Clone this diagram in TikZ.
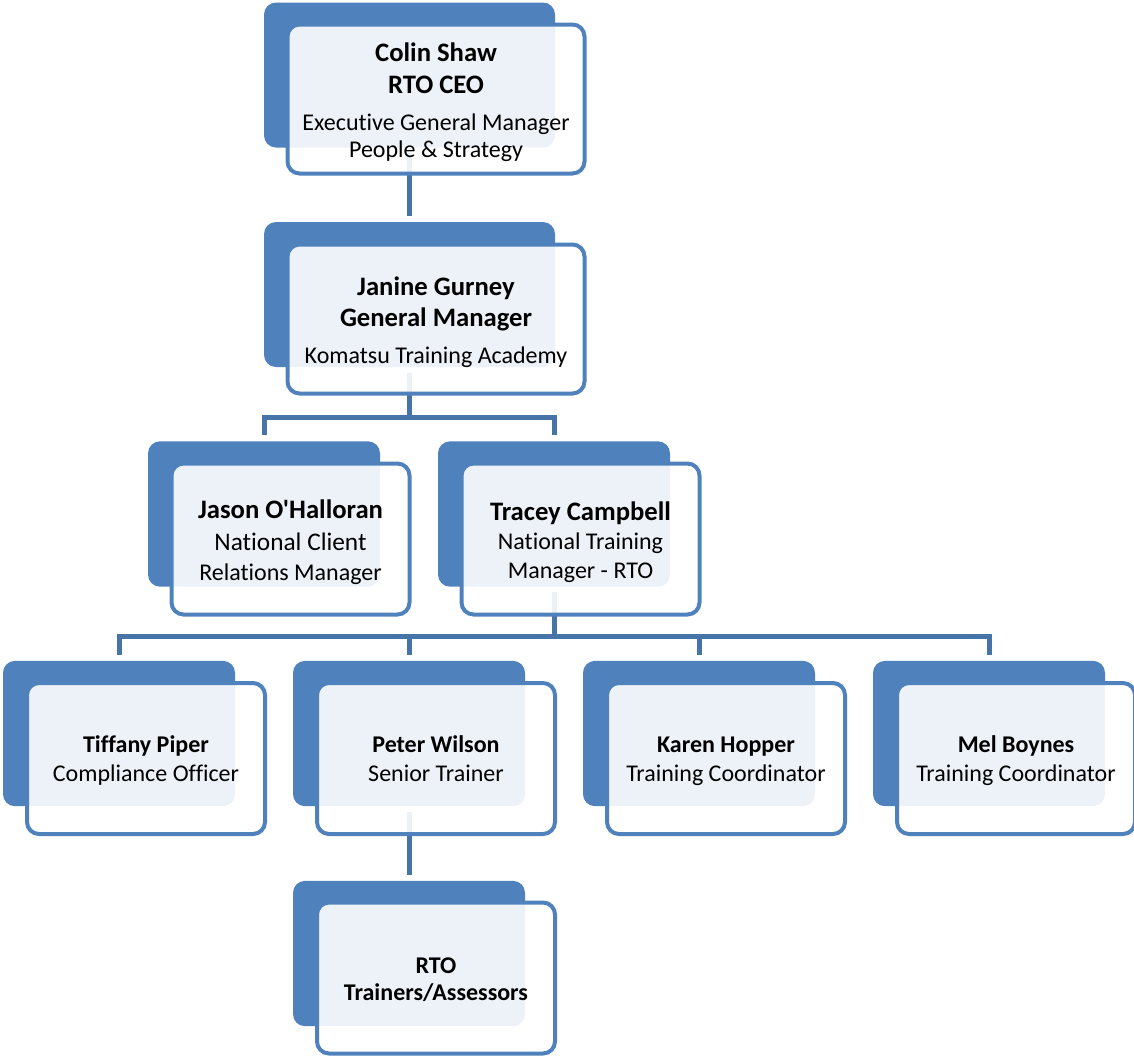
\documentclass[tikz,border=0pt]{standalone}
\usepackage{fontspec}
\setmainfont{Carlito}[Ligatures={NoCommon,TeXOff}]
\definecolor{acc}{HTML}{4F81BD}
\definecolor{conn}{HTML}{4673A8}
\newcommand\bigname{\fontsize{20}{24}\selectfont\bfseries}
\newcommand\smallname{\fontsize{18}{21}\selectfont\bfseries}
\newcommand\jobtxt{\fontsize{18}{20.5}\selectfont}
% struts fixing the height of the first line and the depth of the last one
\newcommand\hiA{\rule{0pt}{21pt}}
\newcommand\loA{\rule[-5.5pt]{0pt}{5.5pt}}
\newcommand\hiB{\rule{0pt}{18pt}}
\newcommand\loB{\rule[-5pt]{0pt}{5pt}}
\pgfdeclarelayer{bg}
\pgfsetlayers{bg,main}
\tikzset{
  backbox/.style={fill=acc, draw=none, rounded corners=9pt, inner sep=0pt},
  frontbox/.style={draw=acc, line width=3pt, fill=white, fill opacity=0.9, text opacity=1,
    rounded corners=9pt, inner sep=0pt, align=center, text=black, font=\jobtxt},
  wideB/.style={backbox, minimum width=218.25pt, minimum height=108.75pt},
  wideF/.style={frontbox, minimum width=222.75pt, minimum height=111.75pt},
  narB/.style={backbox, minimum width=174pt, minimum height=109pt},
  narF/.style={frontbox, minimum width=178.5pt, minimum height=113.25pt},
  link/.style={draw=conn, line width=3.75pt, shorten <=4.1pt, shorten >=4.5pt}
}
\begin{document}
\begin{tikzpicture}[x=0.75pt,y=-0.75pt]
\useasboundingbox (0,0) rectangle (1134,1057);
\coordinate (bus1) at (0,417);
\coordinate (bus2) at (0,636);
% back plates
\node[wideB] (colinB) at (409.5,75) {};
\node[wideB] (janB)   at (409.5,294.5) {};
\node[narB]  (jasB)   at (264,514) {};
\node[narB]  (traB)   at (554,514) {};
\node[narB]  (tifB)   at (119,733.5) {};
\node[narB]  (petB)   at (409,733.5) {};
\node[narB]  (karB)   at (699,733.5) {};
\node[narB]  (melB)   at (989,733.5) {};
\node[narB]  (rtoB)   at (409,953.5) {};
% front cards
\node[wideF] (colin) at (436,99) {\hiA{\bigname Colin Shaw}\\[3.5pt]{\bigname RTO CEO}\\[7pt]Executive General Manager\\People \& Strategy\loA};
\node[wideF] (janine) at (436,319) {\hiA{\bigname Janine Gurney}\\[3pt]{\bigname General Manager}\\[7.5pt]Komatsu Training Academy\loA};
\node[narF] (jason) at (290.5,539) {\hiA{\bigname Jason O'Halloran}\\[3pt]{\fontsize{19}{21}\selectfont National Client}\\[2pt]Relations Manager\loA};
\node[narF] (tracey) at (580.5,539) {\hiA{\bigname Tracey Campbell}\\[1.5pt]National Training\\[1.25pt]Manager - RTO\loA};
\node[narF] (tiffany) at (146,758.5) {\hiB{\smallname Tiffany Piper}\\[1pt]Compliance Officer\loB};
\node[narF] (peter) at (436,758.5) {\hiB{\smallname Peter Wilson}\\[1pt]Senior Trainer\loB};
\node[narF] (karen) at (726,758.5) {\hiB{\smallname Karen Hopper}\\[1pt]Training Coordinator\loB};
\node[narF] (mel) at (1016,758.5) {\hiB{\smallname Mel Boynes}\\[1.5pt]Training Coordinator\loB};
\node[narF] (rto) at (436,978) {\hiB{\smallname RTO}\\{\smallname Trainers/Assessors}\loB};
% connectors, under the plates
\begin{pgfonlayer}{bg}
\draw[link] (colinB.south) -- (janB.north);
\draw[link] (janB.south) |- (jasB.north |- bus1) -- (jasB.north);
\draw[link] (janB.south) |- (traB.north |- bus1) -- (traB.north);
\draw[link] (traB.south) |- (tifB.north |- bus2) -- (tifB.north);
\draw[link] (traB.south) |- (petB.north |- bus2) -- (petB.north);
\draw[link] (traB.south) |- (karB.north |- bus2) -- (karB.north);
\draw[link] (traB.south) |- (melB.north |- bus2) -- (melB.north);
\draw[link] (petB.south) -- (rtoB.north);
\end{pgfonlayer}
\end{tikzpicture}
\end{document}
